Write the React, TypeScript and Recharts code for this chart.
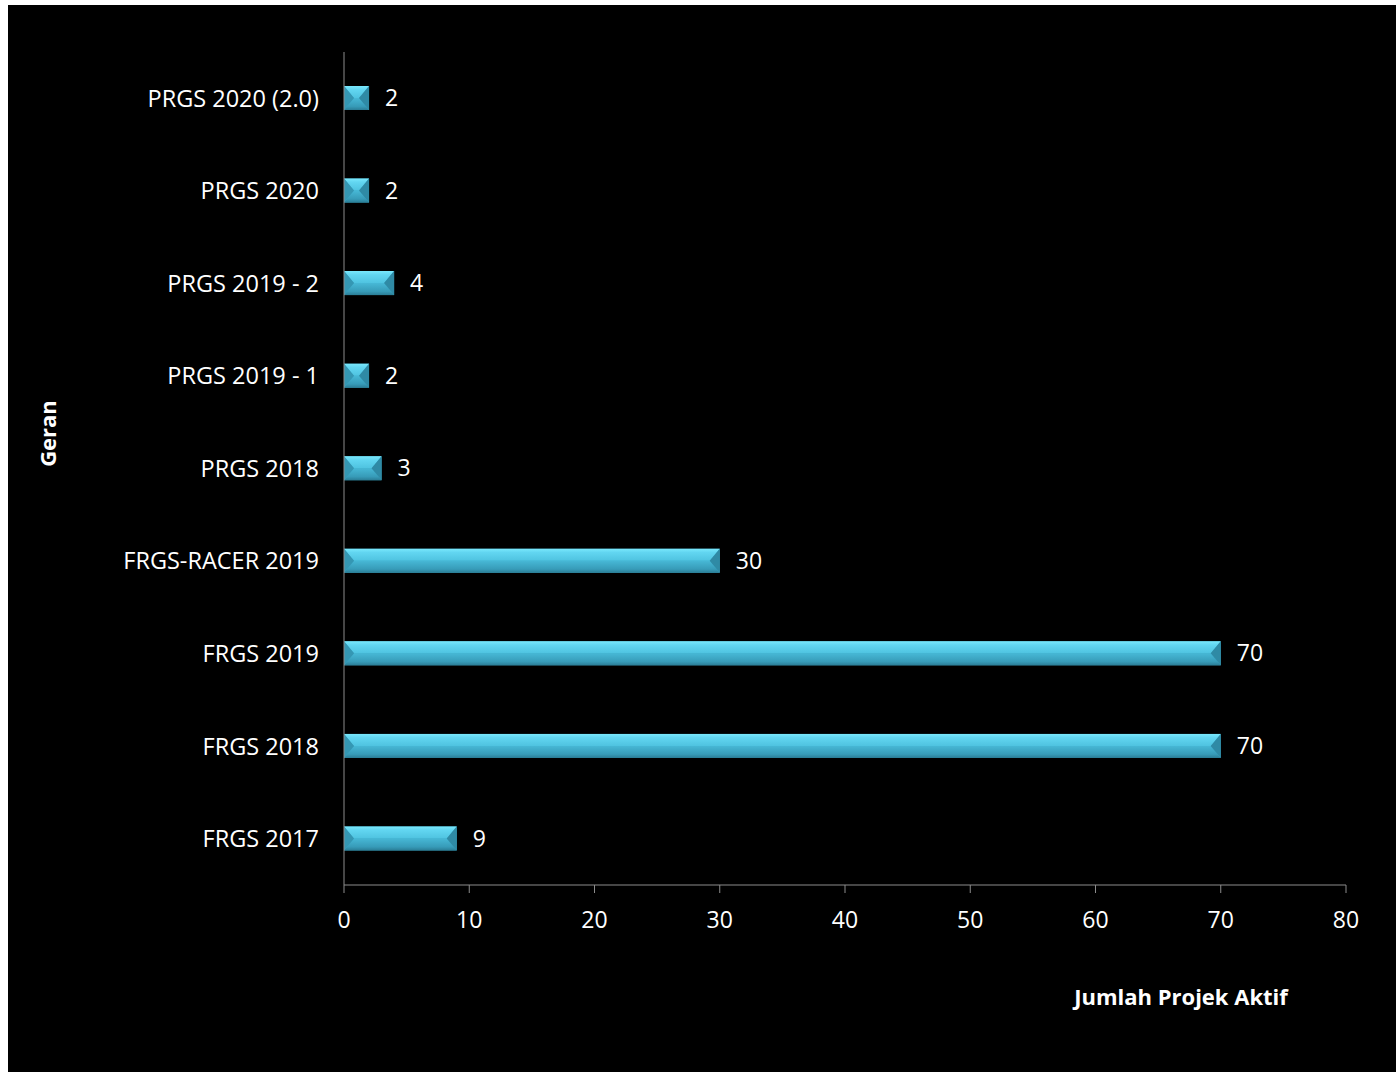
import { BarChart, Bar, XAxis, YAxis, LabelList } from "recharts";

const categories = [
  "PRGS 2020 (2.0)",
  "PRGS 2020",
  "PRGS 2019 - 2",
  "PRGS 2019 - 1",
  "PRGS 2018",
  "FRGS-RACER 2019",
  "FRGS 2019",
  "FRGS 2018",
  "FRGS 2017",
];
const projekAktif = [2, 2, 4, 2, 3, 30, 70, 70, 9];
const xTicks = [0, 10, 20, 30, 40, 50, 60, 70, 80];

const data = categories.map((geran, i) => ({ geran, value: projekAktif[i] }));

const FONT = "Open Sans, sans-serif";

function BevelBar(props: any) {
  const { x, y, width, height } = props;
  if (!width || width <= 0) return null;
  const b = Math.min(10, width / 2);
  const m = y + height / 2;
  return (
    <g>
      <rect x={x} y={y} width={width} height={height} fill="#3ba9c7" />
      <polygon
        points={`${x},${y} ${x + width},${y} ${x + width - b},${m} ${x + b},${m}`}
        fill="url(#topFace)"
      />
      <polygon
        points={`${x + b},${m} ${x + width - b},${m} ${x + width},${y + height} ${x},${y + height}`}
        fill="url(#bottomFace)"
      />
      <polygon points={`${x},${y} ${x + b},${m} ${x},${y + height}`} fill="#3597b3" />
      <polygon
        points={`${x + width},${y} ${x + width - b},${m} ${x + width},${y + height}`}
        fill="#2f8aa5"
      />
    </g>
  );
}

export default function App() {
  return (
    <div
      style={{
        position: "absolute",
        left: 8,
        top: 5,
        width: 1388,
        height: 1067,
        background: "#000",
        fontFamily: FONT,
      }}
    >
      <BarChart
        width={1388}
        height={1067}
        data={data}
        layout="vertical"
        margin={{ top: 47, right: 50, bottom: 0, left: 0 }}
      >
        <defs>
          <linearGradient id="topFace" x1="0" y1="0" x2="0" y2="1">
            <stop offset="0%" stopColor="#7ae8fc" />
            <stop offset="30%" stopColor="#62d6f1" />
            <stop offset="100%" stopColor="#4fc3e0" />
          </linearGradient>
          <linearGradient id="bottomFace" x1="0" y1="0" x2="0" y2="1">
            <stop offset="0%" stopColor="#47b8d6" />
            <stop offset="70%" stopColor="#379bb8" />
            <stop offset="100%" stopColor="#2a7d96" />
          </linearGradient>
        </defs>
        <XAxis
          type="number"
          domain={[0, 80]}
          ticks={xTicks}
          interval={0}
          height={187}
          stroke="#8c8c8c"
          tickSize={8}
          tickMargin={19}
          tick={{ fill: "#ffffff", fontSize: 23, fontFamily: FONT }}
          label={{
            value: "Jumlah Projek Aktif",
            position: "center",
            dx: 336,
            dy: 19,
            fill: "#ffffff",
            fontSize: 22,
            fontWeight: 700,
            fontFamily: FONT,
          }}
        />
        <YAxis
          type="category"
          dataKey="geran"
          width={336}
          stroke="#8c8c8c"
          tickLine={false}
          tickSize={0}
          tickMargin={25}
          interval={0}
          tick={{ fill: "#ffffff", fontSize: 23.5, fontFamily: FONT }}
          label={{
            value: "Geran",
            angle: -90,
            position: "center",
            dx: -128,
            dy: -35,
            fill: "#ffffff",
            fontSize: 22,
            fontWeight: 700,
            fontFamily: FONT,
          }}
        />
        <Bar dataKey="value" barSize={24} shape={<BevelBar />} isAnimationActive={false}>
          <LabelList
            dataKey="value"
            position="right"
            offset={16}
            fill="#ffffff"
            fontSize={23}
            fontFamily={FONT}
          />
        </Bar>
      </BarChart>
    </div>
  );
}
